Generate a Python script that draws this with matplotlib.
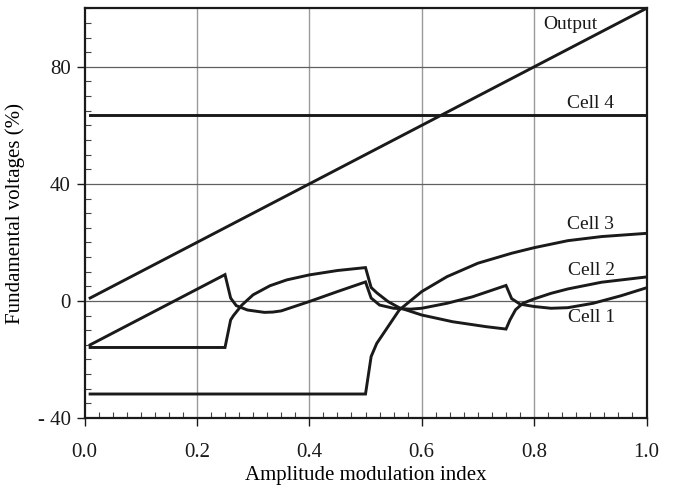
import matplotlib
matplotlib.use("Agg")
import matplotlib.pyplot as plt
from matplotlib.ticker import MultipleLocator, FixedLocator

plt.rcParams['font.family'] = ['Liberation Serif', 'DejaVu Serif']

# ---- data ----
out_x = [0.01, 1.0]
out_y = [1.0, 100.0]

cell4_x = [0.01, 1.0]
cell4_y = [63.66, 63.66]

cell3_x = [0.01, 0.50, 0.51, 0.52, 0.54, 0.56, 0.60, 0.645, 0.70, 0.76, 0.80, 0.86, 0.92, 1.0]
cell3_y = [-31.8, -31.8, -19.0, -14.5, -8.8, -3.1, 3.2, 8.3, 12.9, 16.3, 18.2, 20.6, 22.0, 23.1]

cell2_x = [0.01, 0.25, 0.26, 0.265, 0.28, 0.30, 0.33, 0.36, 0.40, 0.45, 0.50, 0.51, 0.52,
           0.54, 0.56, 0.60, 0.655, 0.715, 0.75, 0.757, 0.767, 0.78, 0.80, 0.83, 0.86, 0.92, 1.0]
cell2_y = [-15.9, -15.9, -6.5, -5.0, -1.4, 2.1, 5.2, 7.2, 8.9, 10.4, 11.4, 4.6, 2.8,
           -0.2, -2.3, -4.8, -7.1, -8.8, -9.6, -6.5, -3.0, -0.8, 0.7, 2.6, 4.1, 6.4, 8.2]

cell1_x = [0.01, 0.25, 0.26, 0.27, 0.29, 0.32, 0.335, 0.35, 0.40, 0.45, 0.50, 0.51, 0.525, 0.55,
           0.58, 0.60, 0.645, 0.69, 0.75, 0.76, 0.775, 0.80, 0.83, 0.86, 0.905, 0.955, 1.0]
cell1_y = [-15.0, 9.0, 1.0, -1.6, -3.1, -3.9, -3.8, -3.4, -0.2, 3.2, 6.5, 1.0, -1.4, -2.5,
           -2.8, -2.5, -0.8, 1.4, 5.3, 0.8, -1.1, -1.9, -2.5, -2.3, -0.8, 1.8, 4.5]

series_labels = ["Output", "Cell 4", "Cell 3", "Cell 2", "Cell 1"]
label_pos = [(0.864, 94.4), (0.901, 67.4), (0.901, 26.0), (0.903, 10.4), (0.903, -5.5)]

x_ticks = [0.0, 0.2, 0.4, 0.6, 0.8, 1.0]
x_ticklabels = ["0.0", "0.2", "0.4", "0.6", "0.8", "1.0"]
y_ticks = [-40, 0, 40, 80]
y_ticklabels = ["- 40", "0", "40", "80"]

# ---- figure ----
fig = plt.figure(figsize=(6.75, 4.86), dpi=100)
ax = fig.add_axes([0.1252, 0.1399, 0.8326, 0.8430])

lc = '#1a1a1a'
lw = 2.1
for xs, ys in [(out_x, out_y), (cell4_x, cell4_y), (cell3_x, cell3_y),
               (cell2_x, cell2_y), (cell1_x, cell1_y)]:
    ax.plot(xs, ys, color=lc, lw=lw, solid_joinstyle='miter', zorder=3)

for txt, (tx, ty) in zip(series_labels, label_pos):
    ax.text(tx, ty, txt, fontsize=14, ha='center', va='center', color=lc, zorder=4)

ax.set_xlim(0, 1.0)
ax.set_ylim(-40, 100)

# grid
for gx in [0.2, 0.4, 0.6, 0.8]:
    ax.axvline(gx, color='#9a9a9a', lw=1.0, zorder=1)
for gy in [0, 40, 80]:
    ax.axhline(gy, color='#606060', lw=0.9, zorder=1)

ax.xaxis.set_major_locator(FixedLocator(x_ticks))
ax.set_xticklabels(x_ticklabels)
ax.yaxis.set_major_locator(FixedLocator(y_ticks))
ax.set_yticklabels(y_ticklabels)
ax.xaxis.set_minor_locator(MultipleLocator(0.025))
ax.yaxis.set_minor_locator(MultipleLocator(5))

ax.tick_params(which='major', direction='out', length=6, width=1.0, labelsize=15,
               colors='#1a1a1a')
ax.tick_params(axis='x', which='major', pad=12)
ax.tick_params(axis='y', which='major', pad=4)
ax.tick_params(which='minor', direction='in', length=4, width=0.8, colors='#444444')

for s in ax.spines.values():
    s.set_linewidth(1.6)
    s.set_color('#1a1a1a')

ax.set_xlabel("Amplitude modulation index", fontsize=15, labelpad=3)
ax.set_ylabel("Fundamental voltages (%)", fontsize=15, labelpad=9)

fig.savefig("out.png", dpi=100)
